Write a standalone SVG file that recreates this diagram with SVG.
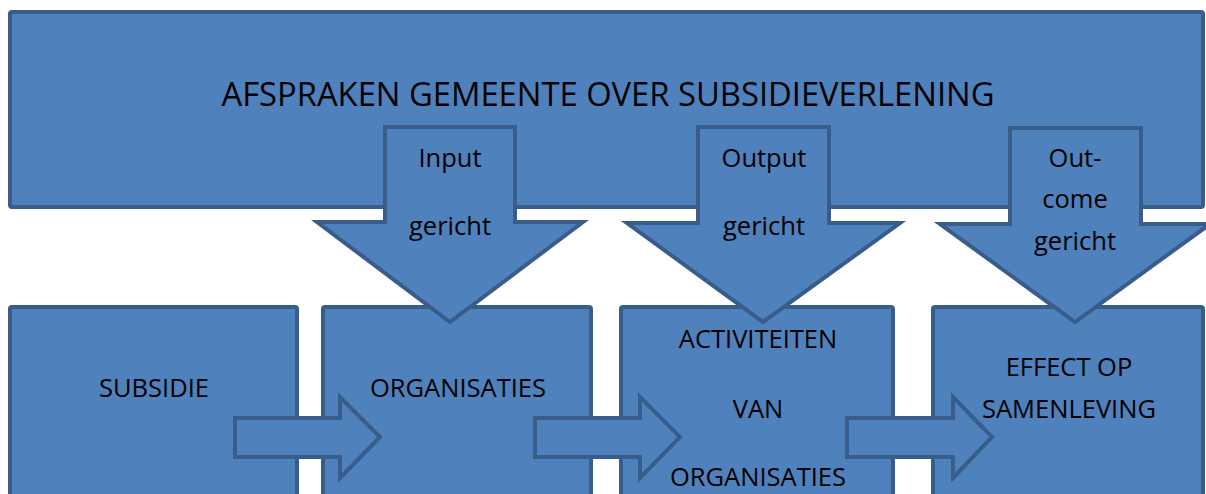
<svg xmlns="http://www.w3.org/2000/svg" width="1206" height="494" viewBox="0 0 1206 494">
<style>
.shape{fill:#4f81bd;stroke:#385d8a;stroke-width:4;stroke-linejoin:miter}
.t{font-family:"Open Sans","Liberation Sans",sans-serif;fill:#000;text-anchor:middle}
.s{font-size:25.5px}
.big{font-size:33px}
</style>
<rect width="1206" height="494" fill="#fff"/>
<g id="afspraken">
<rect class="shape" x="10" y="12" width="1193" height="195" rx="2"/>
<text class="t big" x="608" y="106" textLength="773" lengthAdjust="spacingAndGlyphs">AFSPRAKEN GEMEENTE OVER SUBSIDIEVERLENING</text>
</g>
<g id="subsidie">
<rect class="shape" x="10" y="307" width="287" height="200" rx="2"/>
<text class="t s" x="154" y="397">SUBSIDIE</text>
</g>
<g id="organisaties">
<rect class="shape" x="323" y="307" width="268" height="200" rx="2"/>
<text class="t s" x="458" y="397">ORGANISATIES</text>
</g>
<g id="activiteiten">
<rect class="shape" x="621" y="307" width="272" height="200" rx="2"/>
<text class="t s" x="758" y="348">ACTIVITEITEN</text>
<text class="t s" x="758" y="418">VAN</text>
<text class="t s" x="758" y="486">ORGANISATIES</text>
</g>
<g id="effect">
<rect class="shape" x="933" y="307" width="270" height="200" rx="2"/>
<text class="t s" x="1069" y="376">EFFECT OP</text>
<text class="t s" x="1069" y="418">SAMENLEVING</text>
</g>
<g id="input-gericht">
<polygon class="shape" points="385,127 515,127 515,222 583,222 450,322 317,222 385,222"/>
<text class="t s" x="450" y="167">Input</text>
<text class="t s" x="450" y="235">gericht</text>
</g>
<g id="output-gericht">
<polygon class="shape" points="698,127 829,127 829,223 900,223 763,322 627,223 698,223"/>
<text class="t s" x="764" y="167">Output</text>
<text class="t s" x="764" y="235">gericht</text>
</g>
<g id="outcome-gericht">
<polygon class="shape" points="1010,128 1141,128 1141,224 1210,224 1075,322 940,224 1010,224"/>
<text class="t s" x="1075" y="167">Out-</text>
<text class="t s" x="1075" y="208">come</text>
<text class="t s" x="1075" y="250">gericht</text>
</g>
<g id="connectors">
<polygon class="shape" points="235,418 340,418 340,397 380,437 340,478 340,457 235,457"/>
<polygon class="shape" points="535,418 640,418 640,397 680,437 640,478 640,457 535,457"/>
<polygon class="shape" points="847,418 953,418 953,397 992,437 953,478 953,457 847,457"/>
</g>
</svg>
